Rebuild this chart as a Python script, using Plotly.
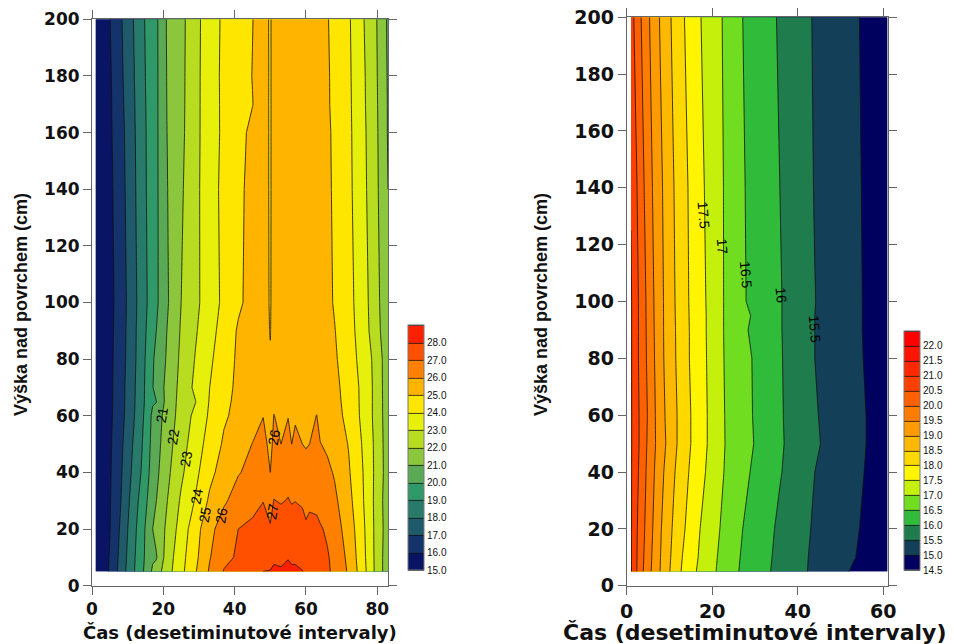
import plotly.graph_objects as go

FONT_B = "DejaVu Sans"
FONT_A = "Liberation Sans"

# ---- left panel ----
left_times = [1,5,8,11,14,17,18,21,25,29,33,37,41,45,48,50,51,53,55,56,57,59,60,61,63,64,66,68,72,76,80,83]
left_heights = [5,10,20,30,40,50,60,65,70,80,90,100,140,160,170,180,200]
L5 = [15.1,16.1,17.38,18.64,19.8,21.16,21.45,22.58,23.73,24.92,26.12,27.07,27.44,27.81,28.0,28.05,28.2,28.1,28.25,28.15,28.15,28.02,27.88,27.75,27.5,27.4,27.14,26.8,25.87,24.4,22.6,21.4]
L10 = [15.1,16.05,17.28,18.57,19.75,20.85,20.9,22.45,23.65,24.77,25.95,26.71,27.14,27.38,27.5,27.6,27.8,27.8,27.95,27.85,27.85,27.8,27.7,27.6,27.4,27.3,27.1,26.7,25.76,24.3,22.6,21.4]
L20 = [15.1,15.97,17.12,18.42,19.62,21.0,21.3,22.17,23.43,24.58,25.75,26.44,27.0,27.2,27.35,27.1,27.4,27.5,27.6,27.5,27.55,27.45,27.2,27.3,27.25,27.1,26.85,26.46,25.55,24.2,22.6,21.5]
L30 = [15.1,15.93,16.95,18.22,19.4,20.63,20.98,21.96,23.14,24.07,25.17,25.88,26.35,26.7,26.98,26.6,27.03,26.93,27.05,26.93,26.98,26.85,26.6,26.8,26.75,26.6,26.4,26.2,25.3,24.06,22.6,21.4]
L40 = [15.1,15.88,16.85,18.0,19.1,20.42,20.75,21.74,22.82,23.74,24.75,25.41,25.95,26.2,26.4,26.0,26.5,26.55,26.65,26.6,26.6,26.55,26.5,26.5,26.45,26.4,26.2,25.92,25.1,24.0,22.65,21.5]
L50 = [15.1,15.85,16.75,17.85,18.95,20.3,20.6,21.57,22.6,23.5,24.4,25.13,25.58,26.02,26.3,25.75,26.2,26.0,26.2,26.0,26.2,26.0,25.9,26.0,26.25,26.03,25.85,25.6,24.95,23.9,22.65,21.45]
L60 = [15.05,15.8,16.62,17.66,18.78,20.2,20.5,21.4,22.4,23.26,24.14,24.88,25.25,25.6,25.98,25.55,26.03,25.7,25.98,25.75,25.9,25.65,25.6,25.7,26.02,25.65,25.5,25.35,24.73,23.75,22.6,21.4]
L65 = [15.05,15.78,16.6,17.6,18.73,19.9,19.97,21.32,22.35,22.97,24.07,24.8,25.2,25.45,25.7,25.5,25.75,25.65,25.8,25.65,25.75,25.62,25.58,25.6,25.75,25.55,25.45,25.3,24.65,23.75,22.6,21.38]
L70 = [15.05,15.78,16.6,17.58,18.7,19.95,20.35,21.25,22.3,23.22,24.0,24.7,25.18,25.35,25.5,25.45,25.55,25.6,25.65,25.6,25.65,25.6,25.55,25.55,25.55,25.5,25.4,25.25,24.6,23.75,22.6,21.35]
L80 = [15.05,15.76,16.53,17.52,18.62,19.9,20.2,21.1,22.2,23.05,23.83,24.55,25.15,25.3,25.4,25.1,25.45,25.5,25.55,25.55,25.55,25.5,25.5,25.45,25.4,25.4,25.3,25.13,24.47,23.62,22.6,21.3]
L90 = [15.05,15.75,16.5,17.49,18.58,19.66,19.99,21.0,22.1,22.9,23.65,24.4,25.1,25.3,25.42,24.95,25.48,25.52,25.58,25.58,25.58,25.52,25.52,25.48,25.42,25.4,25.3,25.04,24.37,23.5,22.3,21.25]
L100 = [15.05,15.72,16.45,17.45,18.51,19.5,19.8,20.87,22.0,22.78,23.5,24.22,24.85,25.3,25.45,24.9,25.5,25.55,25.6,25.6,25.6,25.55,25.55,25.5,25.45,25.4,25.2,24.93,24.3,23.45,22.22,21.2]
L140 = [15.05,15.77,16.58,17.55,18.62,19.54,19.8,20.95,21.86,22.77,23.54,24.28,24.82,25.25,25.42,24.88,25.5,25.55,25.6,25.6,25.6,25.55,25.55,25.5,25.45,25.4,25.18,24.86,24.22,23.3,22.1,21.0]
L160 = [15.05,15.83,16.65,17.6,18.65,19.54,19.8,20.99,21.77,22.74,23.54,24.2,24.73,25.2,25.42,24.88,25.5,25.55,25.6,25.6,25.6,25.55,25.55,25.5,25.45,25.4,25.15,24.84,24.2,23.25,22.06,20.93]
L170 = [15.05,15.85,16.72,17.65,18.69,19.55,19.8,21.01,21.75,22.73,23.55,24.2,24.7,24.98,25.4,24.88,25.5,25.55,25.6,25.6,25.6,25.55,25.55,25.5,25.45,25.4,25.1,24.8,24.18,23.2,22.03,20.93]
L180 = [15.05,15.87,16.78,17.7,18.73,19.56,19.8,21.03,21.74,22.72,23.56,24.21,24.6,25.02,25.42,24.88,25.5,25.55,25.6,25.6,25.6,25.55,25.55,25.5,25.45,25.4,25.1,24.78,24.16,23.18,22.0,20.9]
L200 = [15.05,15.97,16.87,17.79,18.8,19.58,19.81,21.07,21.72,22.69,23.56,24.17,24.58,24.98,25.4,24.88,25.5,25.55,25.6,25.6,25.6,25.55,25.55,25.5,25.45,25.4,25.05,24.75,24.12,23.08,21.96,20.85]
left_z = [L5,L10,L20,L30,L40,L50,L60,L65,L70,L80,L90,L100,L140,L160,L170,L180,L200]
left_colors = ["#0a1464","#14336b","#1f5a6b","#287a6a","#30996a","#5aaa55","#8cc63c","#b8dc1f",
               "#e6f00a","#ffe600","#ffb400","#ff8000","#ff5000","#ff2000"]
left_labels = [("21",19.6,60.3),("22",22.7,52.6),("23",26.3,44.8),("24",29.3,31.8),("25",31.6,25),
               ("26",36.3,25),("26",50.9,52.3),("27",50.6,26.4)]
left_bar_ticks = [15,16,17,18,19,20,21,22,23,24,25,26,27,28]

# ---- right panel ----
right_times = [1,3,5,7,9,11,13,15,17,19,21,23,25,27,29,32,36,40,44,48,52,56,61]
right_heights = [5,10,20,40,50,60,80,90,95,100,140,200]
R5 = [21.05,20.25,19.68,19.18,18.73,18.31,17.95,17.63,17.43,17.21,16.99,16.79,16.58,16.45,16.31,16.1,15.86,15.62,15.41,15.21,15.0,14.85,14.6]
R10 = [21.05,20.27,19.73,19.2,18.76,18.36,18.0,17.73,17.46,17.24,17.02,16.82,16.6,16.47,16.34,16.13,15.87,15.63,15.42,15.22,15.08,14.88,14.62]
R20 = [21.05,20.31,19.8,19.25,18.8,18.43,18.09,17.81,17.52,17.29,17.08,16.88,16.69,16.51,16.37,16.18,15.9,15.66,15.45,15.28,15.11,14.93,14.65]
R40 = [21.05,20.42,19.87,19.37,18.93,18.55,18.22,17.93,17.68,17.43,17.2,16.97,16.8,16.63,16.49,16.3,16.02,15.76,15.5,15.33,15.16,14.98,14.67]
R50 = [21.05,20.47,19.92,19.44,19.03,18.63,18.3,18.0,17.74,17.48,17.24,17.0,16.85,16.7,16.55,16.34,16.05,15.81,15.56,15.38,15.17,15.0,14.72]
R60 = [21.05,20.47,19.96,19.42,18.99,18.63,18.3,18.0,17.74,17.48,17.24,16.99,16.83,16.68,16.53,16.32,16.04,15.79,15.54,15.35,15.17,15.0,14.7]
R80 = [21.05,20.42,19.9,19.37,18.93,18.58,18.25,17.95,17.71,17.46,17.21,16.97,16.82,16.67,16.52,16.31,16.03,15.77,15.5,15.33,15.15,14.97,14.67]
R90 = [21.05,20.42,19.88,19.35,18.92,18.57,18.24,17.95,17.7,17.45,17.2,16.96,16.77,16.59,16.46,16.28,16.02,15.77,15.5,15.32,15.14,14.96,14.66]
R95 = [21.05,20.42,19.87,19.34,18.92,18.56,18.23,17.94,17.7,17.45,17.2,16.96,16.81,16.66,16.5,16.3,16.02,15.77,15.5,15.32,15.14,14.96,14.65]
R100 = [21.05,20.42,19.86,19.33,18.92,18.55,18.22,17.93,17.69,17.44,17.2,16.96,16.76,16.57,16.42,16.25,16.02,15.77,15.51,15.32,15.14,14.96,14.65]
R140 = [20.97,20.31,19.74,19.27,18.88,18.51,18.2,17.9,17.64,17.4,17.18,16.96,16.75,16.55,16.41,16.23,15.99,15.74,15.48,15.3,15.13,14.95,14.65]
R200 = [20.7,20.1,19.58,19.13,18.74,18.39,18.07,17.8,17.54,17.33,17.14,16.93,16.72,16.51,16.38,16.19,15.94,15.69,15.46,15.28,15.11,14.93,14.65]
right_z = [R5,R10,R20,R40,R50,R60,R80,R90,R95,R100,R140,R200]
right_colors = ["#00005f","#134058","#1f7c4c","#30bb3a","#70dd20","#c4f00c","#fff500","#ffd800",
                "#ffb800","#ff9a00","#ff7c00","#ff6000","#ff4000","#ff2800","#ff1400","#ff0000"]
right_labels = [("17.5",18.1,130.6),("17",22.4,119.2),("16.5",27.8,109.5),("16",36.2,102),("15.5",44,90.3)]
right_bar_ticks = [14.5,15,15.5,16,16.5,17,17.5,18,18.5,19,19.5,20,20.5,21,21.5,22]

y_ticks = [0,20,40,60,80,100,120,140,160,180,200]
left_x_ticks = [0,20,40,60,80]
right_x_ticks = [0,20,40,60]
x_title = "Čas (desetiminutové intervaly)"
y_title = "Výška nad povrchem (cm)"


def band_scale(colors):
    n = len(colors)
    scale = [[0, colors[0]]]
    for i, c in enumerate(colors):
        scale.append([(i + 0.5) / n, c])
    scale.append([1, colors[-1]])
    return scale


def cbar(x, ybottom, length, ticks):
    return dict(thickness=16, thicknessmode="pixels", len=length, lenmode="pixels",
                x=x / 954, xanchor="left", xpad=0, y=1 - ybottom / 644, yanchor="bottom", ypad=0,
                tickmode="array", tickvals=ticks, ticktext=[f"{v:.1f}" for v in ticks], ticks="",
                tickfont=dict(family=FONT_A, size=10, color="#111"),
                outlinecolor="#777", outlinewidth=1, borderwidth=0)


fig = go.Figure()
fig.add_trace(go.Contour(x=left_times, y=left_heights, z=left_z, xaxis="x", yaxis="y",
                         zmin=15, zmax=29,
                         autocontour=False, contours=dict(start=15, end=29, size=1, coloring="fill"),
                         line=dict(color="#111", width=0.8, smoothing=0), colorscale=band_scale(left_colors),
                         colorbar=cbar(408, 570, 245, left_bar_ticks), hoverinfo="skip"))
fig.add_trace(go.Contour(x=right_times, y=right_heights, z=right_z, xaxis="x2", yaxis="y2",
                         zmin=14.5, zmax=22.5,
                         autocontour=False, contours=dict(start=14.5, end=22.5, size=0.5, coloring="fill"),
                         line=dict(color="#111", width=0.8, smoothing=0), colorscale=band_scale(right_colors),
                         colorbar=cbar(904, 570, 239, right_bar_ticks), hoverinfo="skip"))

axis = dict(showgrid=False, zeroline=False, showline=True, linecolor="#666", linewidth=1,
            mirror="ticks", ticks="outside", ticklen=8, tickcolor="#666")
left_tick_font = dict(family=FONT_B, size=17, color="#111", weight="bold")
right_tick_font = dict(family=FONT_B, size=19, color="#111", weight="bold")

annots = []
for txt, t, h in left_labels:
    annots.append(dict(x=t, y=h, xref="x", yref="y", text=txt, showarrow=False, textangle=-80,
                       font=dict(family=FONT_A, size=14, color="#000")))
for txt, t, h in right_labels:
    annots.append(dict(x=t, y=h, xref="x2", yref="y2", text=txt, showarrow=False, textangle=85,
                       font=dict(family=FONT_A, size=14, color="#000")))
for px, py, ang, txt, size, fam in [
    (240, 632, 0, x_title, 18, FONT_B), (755, 632, 0, x_title, 22, FONT_B),
    (21, 305, -90, y_title, 18, FONT_A), (541, 305, -90, y_title, 18, FONT_A)]:
    annots.append(dict(x=px / 954, y=1 - py / 644, xref="paper", yref="paper", text=txt, showarrow=False,
                       textangle=ang, xanchor="center", yanchor="middle",
                       font=dict(family=fam, size=size, color="#111", weight="bold")))

fig.update_layout(
    width=954, height=644, autosize=False, margin=dict(l=0, r=0, t=0, b=0, autoexpand=False),
    paper_bgcolor="white", plot_bgcolor="white", showlegend=False,
    xaxis=dict(domain=[92 / 954, 388 / 954], range=[0, 83], tickvals=left_x_ticks, anchor="y", tickfont=left_tick_font, **axis),
    yaxis=dict(domain=[58.3 / 644, 624.7 / 644], range=[0, 200], tickvals=y_ticks, anchor="x", tickfont=left_tick_font, **axis),
    xaxis2=dict(domain=[626.7 / 954, 888.3 / 954], range=[0, 61.2], tickvals=right_x_ticks, anchor="y2", tickfont=right_tick_font, **axis),
    yaxis2=dict(domain=[58.3 / 644, 626.7 / 644], range=[0, 200], tickvals=y_ticks, anchor="x2", tickfont=right_tick_font, **axis),
    annotations=annots,
)
fig.write_html("out.html", post_script="document.body.style.margin='0';", config=dict(displayModeBar=False))
